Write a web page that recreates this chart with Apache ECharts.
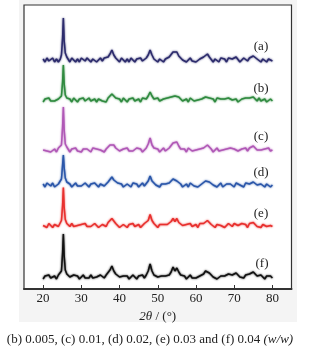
<!DOCTYPE html>
<html>
<head>
<meta charset="utf-8">
<script src="https://cdn.jsdelivr.net/npm/echarts@6/dist/echarts.min.js"></script>
<style>html,body{margin:0;padding:0;background:#fff;}#c{width:310px;height:354px;}</style>
</head>
<body>
<div id="c"></div>
<script>
// 2θ positions (degrees)
const twoTheta = [
  20,20.5,21,21.5,22,22.5,23,23.5,24,24.5,
  24.8,25.1,25.3,25.5,25.8,26.2,26.5,
  27,27.5,28,28.5,29,29.5,30,30.5,31,31.5,
  32,32.5,33,33.5,34,34.5,35,35.5,36,36.5,
  37,37.5,38,38.5,39,39.5,40,40.5,41,41.5,
  42,42.5,43,43.5,44,44.5,45,45.5,46,46.5,
  47,47.5,48,48.5,49,49.5,50,50.5,51,51.5,
  52,52.5,53,53.5,54,54.5,55,55.5,56,56.5,
  57,57.5,58,58.5,59,59.5,60,60.5,61,61.5,
  62,62.5,63,63.5,64,64.5,65,65.5,66,66.5,
  67,67.5,68,68.5,69,69.5,70,70.5,71,71.5,
  72,72.5,73,73.5,74,74.5,75,75.5,76,76.5,
  77,77.5,78,78.5,79,79.5,80
];
const xTicks = [20,30,40,50,60,70,80];
const seriesNames = ['(a)','(b)','(c)','(d)','(e)','(f)'];
const captionText = '(b) 0.005, (c) 0.01, (d) 0.02, (e) 0.03 and (f) 0.04 ';
const captionUnit = '(w/w)';

// intensities (relative)
const intA = [
  1,-2,2,-1,0,2,-2,1,-2,1,
  5,22,42,20,7,3,1,
  -2,2,0,-2,1,-2,2,0,-1,2,
  0,-2,1,2,-2,0,2,-1,2,1,
  3,6,10,5,2,1,-2,2,0,-2,
  1,-2,2,0,-2,1,-1,2,-1,1,
  2,5,10,5,1,2,-2,1,-1,-2,
  1,2,3,5,8,6,8,4,2,0,
  1,-2,0,2,-1,1,-2,0,1,2,
  3,5,6,3,1,-2,1,-1,-2,2,
  0,1,-2,2,3,1,2,3,1,-2,
  0,2,1,-1,2,3,4,2,1,-1,
  -2,1,0,-2,1,0,-1
];
const intB = [
  -2,1,0,2,-1,1,-1,-2,1,2,
  4,18,35,17,5,2,0,
  1,-2,2,0,-2,1,-1,2,-1,0,
  2,-1,0,1,-2,1,2,-1,1,-2,
  2,4,6,4,2,0,1,-2,2,0,
  -2,1,0,2,-1,0,1,-2,2,0,
  1,4,8,4,1,-1,2,-1,0,1,
  -1,2,1,3,5,4,6,3,1,-1,
  0,1,-2,2,0,-1,1,0,-2,1,
  2,3,4,2,0,1,-2,2,0,1,
  -1,1,-1,2,1,0,2,1,-2,0,
  1,-1,2,0,2,3,3,1,-1,2,
  -1,0,1,-2,0,1,-1
];
const intC = [
  0,2,-1,1,-2,0,1,-2,2,1,
  5,23,43,21,6,3,1,
  -2,1,0,2,-1,0,-2,1,-1,1,
  1,-2,2,0,1,-1,0,2,-2,1,
  3,5,7,5,2,1,-1,-2,1,0,
  2,-1,1,-1,-2,2,0,1,-2,0,
  2,6,12,5,2,0,1,-2,0,2,
  -1,1,2,4,7,5,8,4,1,-1,
  1,-2,2,0,-1,1,0,-2,1,0,
  2,4,5,3,1,-2,0,2,-1,1,
  0,-2,1,2,2,0,1,2,-1,-2,
  1,-1,2,-1,2,3,4,2,0,1,
  0,-2,1,0,2,-1,0
];
const intD = [
  1,-2,2,0,-1,2,-2,0,1,2,
  6,20,30,18,7,3,2,
  1,-2,0,2,-1,1,-1,-2,2,0,
  -2,1,0,2,0,-2,1,2,-1,1,
  3,5,8,5,3,2,0,1,-2,0,
  1,-1,-2,2,0,1,-2,0,2,-1,
  1,4,9,4,2,0,1,-2,1,0,
  1,0,2,4,6,5,4,2,1,-2,
  0,1,-2,2,0,-1,1,-2,0,1,
  2,4,5,3,2,0,1,-2,0,2,
  -2,0,1,2,1,-1,-2,2,1,0,
  1,-2,2,0,1,2,3,1,0,-2,
  1,0,-2,1,0,-2,0
];
const intE = [
  0,1,-2,2,0,-2,1,2,-1,1,
  5,20,38,19,6,2,1,
  -1,2,-1,1,0,-2,1,-1,2,-1,
  1,-1,-2,2,1,-2,0,1,2,-1,
  3,5,7,5,2,1,-2,0,1,2,
  -2,1,0,2,-1,-1,1,-2,0,2,
  1,5,11,5,2,0,-2,1,0,1,
  -1,1,2,4,7,4,7,3,1,0,
  -2,1,0,2,-1,0,1,-2,2,0,
  2,4,5,3,1,-1,-2,1,2,0,
  1,-2,0,2,1,-1,2,1,0,-2,
  2,0,1,-2,2,3,3,1,-1,1,
  -2,1,0,-1,1,0,-1
];
const intF = [
  -2,1,0,2,-1,0,1,-2,2,1,
  6,24,43,22,7,3,1,
  0,-2,2,0,1,-2,0,2,-1,1,
  -1,2,-1,1,0,-2,2,1,-1,2,
  4,7,11,6,3,1,0,-2,1,0,
  1,-2,0,2,0,-2,1,0,2,-1,
  2,6,13,6,2,1,0,-2,1,0,
  1,0,2,5,10,6,9,5,2,0,
  1,-2,0,2,-1,1,-1,-2,1,2,
  3,6,8,4,2,0,1,-2,0,1,
  -1,1,2,3,4,2,3,4,2,0,
  1,-1,2,1,3,4,5,3,1,-1,
  2,0,-2,1,0,1,-1
];

// stacking offsets (layout) and styles
const intensities = [intA, intB, intC, intD, intE, intF];
const offsets = [229, 189, 139, 104, 63.5, 12];
const colors = ['#2c2b6c', '#2f8a3f', '#b058b6', '#2a56a9', '#e8302e', '#111111'];
const labelPos = [[261,47],[261,89],[261,137],[261,173],[261,214],[262,264]];
const FONT = '"Liberation Serif", "DejaVu Serif", serif';

const chart = echarts.init(document.getElementById('c'), null, {renderer: 'canvas'});
const series = intensities.map((arr, k) => ({
  type: 'line',
  name: seriesNames[k],
  showSymbol: false,
  silent: true,
  animation: false,
  lineStyle: {color: colors[k], width: 1.5, shadowColor: colors[k], shadowBlur: 2},
  data: twoTheta.map((x, i) => [x, offsets[k] + arr[i]])
}));

const graphics = [
  {type: 'rect', z: -10, silent: true, shape: {x: 19, y: 0, width: 278, height: 322}, style: {fill: '#f4f4f4'}},
  {type: 'text', z: 10, x: 150, y: 340, style: {
    text: captionText + '{i|' + captionUnit + '}',
    font: '13px ' + FONT, fill: '#222', align: 'center', verticalAlign: 'middle',
    rich: {i: {fontStyle: 'italic', fontFamily: FONT, fontSize: 13, fill: '#222'}}
  }}
];
seriesNames.forEach((n, k) => {
  graphics.push({type: 'text', z: 10, x: labelPos[k][0], y: labelPos[k][1], style: {
    text: n, font: '13px ' + FONT, fill: '#222', align: 'center', verticalAlign: 'middle'}});
});

chart.setOption({
  animation: false,
  backgroundColor: '#fff',
  grid: {left: 24, right: 18.5, top: 5, bottom: 65, show: true, backgroundColor: '#fff', borderColor: '#333', borderWidth: 1.2},
  xAxis: {
    type: 'value', min: 15, max: 85,
    name: '{i|2θ} / (°)', nameLocation: 'middle', nameGap: 13,
    nameTextStyle: {fontFamily: FONT, fontSize: 13, color: '#222', rich: {i: {fontStyle: 'italic', fontFamily: FONT, fontSize: 13, color: '#222'}}},
    axisLine: {show: true, onZero: false, lineStyle: {color: '#333', width: 2}},
    axisTick: {show: true, inside: true, length: 4, customValues: xTicks, lineStyle: {color: '#333'}},
    axisLabel: {customValues: xTicks, margin: 3, fontFamily: FONT, fontSize: 13, color: '#222'},
    splitLine: {show: false}
  },
  yAxis: {type: 'value', min: 0, max: 284, show: false, splitLine: {show: false}},
  series: series,
  graphic: graphics
});
</script>
</body>
</html>
